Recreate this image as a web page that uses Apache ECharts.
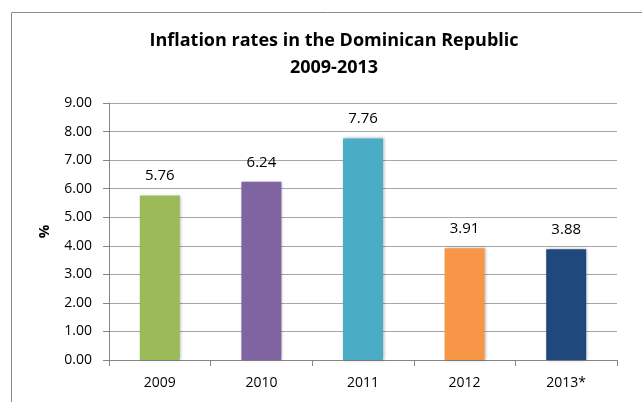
<!DOCTYPE html>
<html>
<head>
<meta charset="utf-8">
<script src="https://cdn.jsdelivr.net/npm/echarts@6/dist/echarts.min.js"></script>
<style>html,body{margin:0;padding:0;background:#fff}#c{width:642px;height:402px}</style>
</head>
<body>
<div id="c"></div>
<script>
const categories = ['2009', '2010', '2011', '2012', '2013*'];
const values = [5.76, 6.24, 7.76, 3.91, 3.88];
const barColors = ['#9BBB59', '#8064A2', '#4BACC6', '#F79646', '#1F497D'];
const titleText = 'Inflation rates in the Dominican Republic';
const subtitleText = '2009-2013';

const FONT = '"Open Sans", "Noto Sans", sans-serif';
const titleStyle = {fontFamily: FONT, fontWeight: 'bold', fontSize: 18, color: '#000'};
const chart = echarts.init(document.getElementById('c'));
chart.setOption({
  animation: false,
  graphic: [{
    type: 'rect', shape: {x: 11.5, y: 12.5, width: 640, height: 400},
    style: {fill: 'none', stroke: '#8c8c8c', lineWidth: 1}, silent: true
  }],
  title: [
    {text: titleText, left: 334, top: 32, textAlign: 'center', padding: 0, textStyle: titleStyle},
    {text: subtitleText, left: 334, top: 59, textAlign: 'center', padding: 0, textStyle: titleStyle}
  ],
  grid: {left: 109, right: 25, top: 103, bottom: 42},
  xAxis: {
    type: 'category', data: categories,
    axisLine: {lineStyle: {color: '#868686'}},
    axisTick: {show: true, length: 6, lineStyle: {color: '#868686'}},
    axisLabel: {fontFamily: FONT, fontSize: 14, color: '#000', margin: 16}
  },
  yAxis: {
    type: 'value', min: 0, max: 9, interval: 1,
    name: '%', nameLocation: 'middle', nameGap: 57, nameRotate: 90,
    nameTextStyle: {fontFamily: FONT, fontWeight: 'bold', fontSize: 15, color: '#000'},
    axisLine: {show: true, lineStyle: {color: '#868686'}},
    axisTick: {show: true, length: 6, lineStyle: {color: '#868686'}},
    splitLine: {lineStyle: {color: '#a6a6a6'}},
    axisLabel: {fontFamily: FONT, fontSize: 14, color: '#000', margin: 17,
      formatter: v => v.toFixed(2)}
  },
  series: [{
    type: 'bar', barWidth: 40,
    data: values.map((v, i) => ({value: v, itemStyle: {color: barColors[i]}})),
    itemStyle: {shadowBlur: 3, shadowOffsetX: 1, shadowOffsetY: 0, shadowColor: 'rgba(0,0,0,0.3)'},
    label: {show: true, position: 'top', distance: 12, fontFamily: FONT, fontSize: 15, color: '#000',
      formatter: p => p.value.toFixed(2)}
  }]
});
</script>
</body>
</html>
